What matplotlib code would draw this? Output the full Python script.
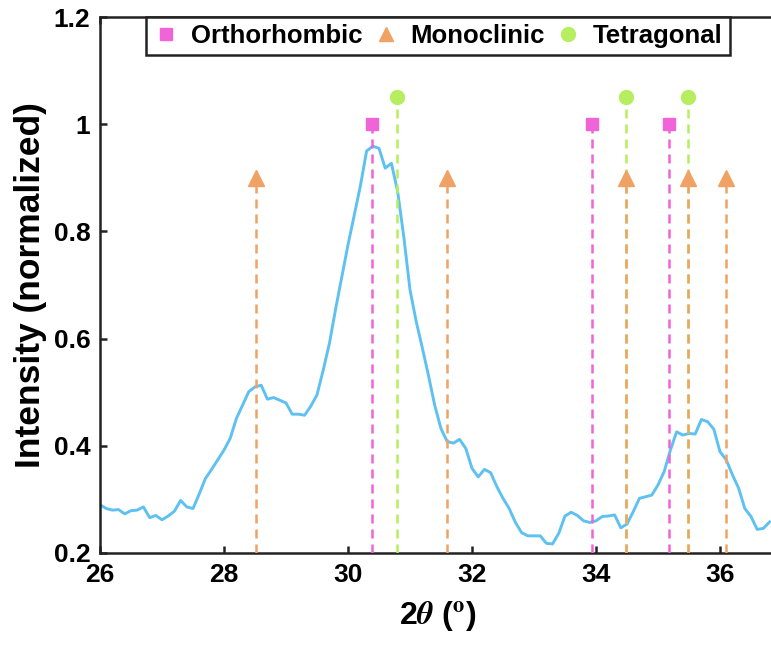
import numpy as np
import matplotlib
matplotlib.use("Agg")
import matplotlib.pyplot as plt
from matplotlib.lines import Line2D

plt.rcParams['font.family'] = ['Liberation Sans', 'DejaVu Sans']
plt.rcParams['font.weight'] = 'bold'
plt.rcParams['mathtext.fontset'] = 'stix'
plt.rcParams['lines.scale_dashes'] = False

# ---- data ----
two_theta = np.round(np.arange(26.0, 36.81, 0.1), 2)
intensity = [
    0.290, 0.283, 0.280, 0.281, 0.273, 0.279, 0.280, 0.286, 0.266, 0.270,
    0.262, 0.269, 0.278, 0.298, 0.286, 0.283, 0.310, 0.339, 0.356, 0.374,
    0.392, 0.414, 0.451, 0.476, 0.501, 0.510, 0.513, 0.487, 0.490, 0.485,
    0.480, 0.459, 0.459, 0.457, 0.474, 0.495, 0.541, 0.591, 0.655, 0.715,
    0.775, 0.830, 0.885, 0.950, 0.959, 0.955, 0.918, 0.927, 0.875, 0.790,
    0.691, 0.632, 0.582, 0.530, 0.475, 0.432, 0.408, 0.405, 0.412, 0.395,
    0.358, 0.342, 0.356, 0.350, 0.324, 0.302, 0.283, 0.257, 0.238, 0.232,
    0.232, 0.232, 0.218, 0.217, 0.237, 0.269, 0.276, 0.270, 0.260, 0.257,
    0.260, 0.268, 0.269, 0.271, 0.247, 0.254, 0.277, 0.302, 0.305, 0.308,
    0.327, 0.352, 0.392, 0.426, 0.420, 0.423, 0.422, 0.449, 0.445, 0.431,
    0.389, 0.374, 0.346, 0.321, 0.283, 0.268, 0.244, 0.246, 0.258,
]

ortho_pos = [30.39, 33.94, 35.18]
ortho_val = 1.0
mono_pos = [28.52, 31.60, 34.49, 35.48, 36.10]
mono_val = 0.9
tetra_pos = [30.79, 34.49, 35.48]
tetra_val = 1.05

x_ticks = [26, 28, 30, 32, 34, 36]
x_tick_labels = ['26', '28', '30', '32', '34', '36']
y_ticks = [0.2, 0.4, 0.6, 0.8, 1.0, 1.2]
y_tick_labels = ['0.2', '0.4', '0.6', '0.8', '1', '1.2']

# ---- style ----
c_curve = '#5EC1F1'
c_ortho = '#F064D8'
c_mono = '#F0A264'
c_tetra = '#B6EE60'
dash = (6.5, 4.3)
ymin = 0.2

fig = plt.figure(figsize=(7.71, 6.47), dpi=100)
ax = fig.add_axes([100/771, 94/647, 675.8/771, 536/647])

ax.plot(two_theta, intensity, color=c_curve, lw=2.1, zorder=2)

def stems(pos, val, color, marker, ms):
    for p in pos:
        ax.plot([p, p], [ymin, val], color=color, lw=1.8, dashes=dash, zorder=3)
        ax.plot([p], [val], marker=marker, color=color, ms=ms, mec=color, zorder=4, ls='none')

stems(tetra_pos, tetra_val, c_tetra, 'o', 10)
stems(ortho_pos, ortho_val, c_ortho, 's', 8.5)
stems(mono_pos, mono_val, c_mono, '^', 11)

ax.set_xlim(26, 36.9)
ax.set_ylim(0.2, 1.2)
ax.set_xticks(x_ticks)
ax.set_xticklabels(x_tick_labels)
ax.set_yticks(y_ticks)
ax.set_yticklabels(y_tick_labels)
ax.tick_params(direction='in', length=5, width=1.8, labelsize=19, top=True, right=False,
               colors='#222222', labelcolor='black', pad=7)
for s in ax.spines.values():
    s.set_linewidth(1.8)
    s.set_color('#222222')

ax.set_ylabel('Intensity (normalized)', fontsize=25.5, fontweight='bold', labelpad=5)
ax.set_xlabel('2$\\theta$ ($^{\\mathsf{o}}$)', fontsize=23, fontweight='bold', labelpad=9)

handles = [
    Line2D([], [], ls='none', marker='s', color=c_ortho, ms=8.5),
    Line2D([], [], ls='none', marker='^', color=c_mono, ms=10),
    Line2D([], [], ls='none', marker='o', color=c_tetra, ms=10),
]
leg = ax.legend(handles, ['Orthorhombic', 'Monoclinic', 'Tetragonal'], ncol=3,
                loc='upper center', bbox_to_anchor=(0.5, 1.0), borderaxespad=0,
                prop={'size': 18.5, 'weight': 'bold'}, frameon=True, fancybox=False,
                edgecolor='#222222', framealpha=1, handlelength=1.0, handletextpad=0.47,
                columnspacing=0.4, borderpad=0.28)
leg.get_frame().set_linewidth(1.8)

fig.savefig('out.png', dpi=100)
